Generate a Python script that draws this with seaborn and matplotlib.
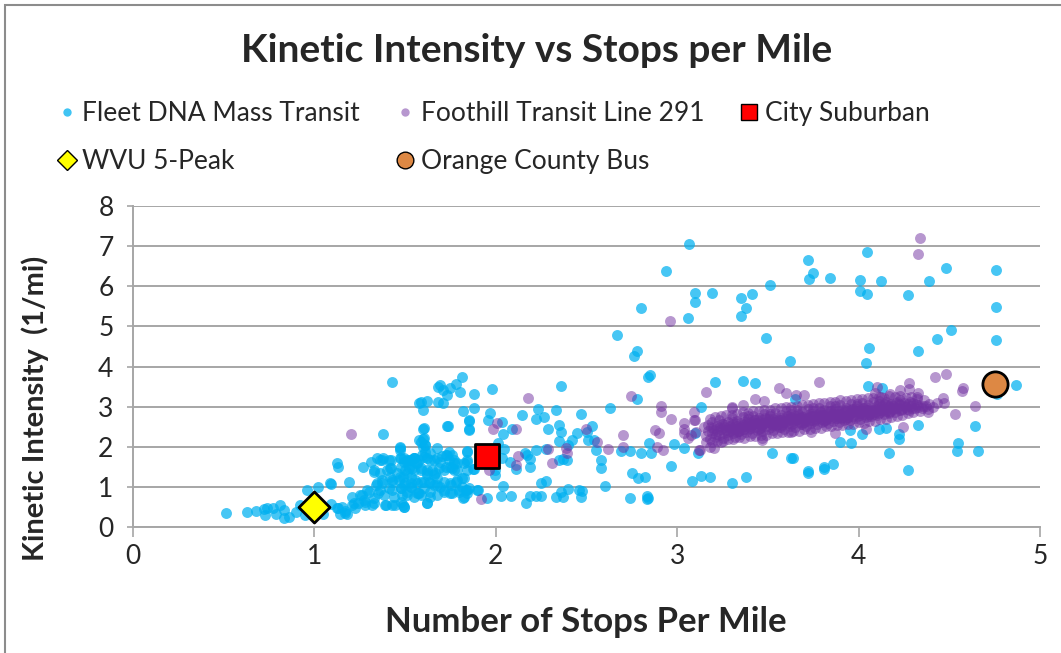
import pandas as pd
import seaborn as sns
import matplotlib.pyplot as plt
from matplotlib.lines import Line2D
from matplotlib.patches import Rectangle

# ---------------------------------------------------------------------------
# Data: (stops per mile, kinetic intensity 1/mi)
# ---------------------------------------------------------------------------
fleet_dna_low = [
    (0.51, 0.35), (0.63, 0.37), (0.68, 0.40), (0.72, 0.45), (0.73, 0.31), (0.74, 0.47),
    (0.77, 0.47), (0.79, 0.33), (0.81, 0.55), (0.83, 0.43), (0.83, 0.24), (0.86, 0.26),
    (0.90, 0.39), (0.92, 0.56), (0.95, 0.31), (0.96, 0.93), (1.02, 1.01), (1.05, 0.32),
    (1.09, 1.08), (1.09, 0.59), (1.125, 1.59), (1.13, 1.51), (1.13, 0.47), (1.14, 0.34),
    (1.18, 0.34), (1.19, 1.14), (1.17, 0.40), (1.088, 1.10), (1.125, 0.47), (1.152, 0.50),
    (1.17, 0.35), (1.21, 0.76), (1.21, 0.56), (1.24, 0.60), (1.217, 0.60), (1.226, 0.47),
]

fleet_dna_cluster = [
    (1.27, 1.51), (1.26, 0.80), (1.28, 0.64), (1.29, 0.93), (1.31, 1.63), (1.33, 1.43),
    (1.34, 1.05), (1.35, 0.85), (1.33, 0.60), (1.36, 1.68), (1.38, 1.72), (1.40, 1.43),
    (1.37, 1.10), (1.39, 0.56), (1.42, 1.68), (1.42, 1.47), (1.43, 1.18), (1.43, 0.93),
    (1.43, 0.56), (1.47, 1.97), (1.47, 1.72), (1.48, 1.51), (1.49, 1.26), (1.48, 0.97),
    (1.49, 0.56), (1.51, 1.68), (1.52, 1.47), (1.53, 1.10), (1.55, 1.72), (1.56, 1.59),
    (1.57, 0.85), (1.254, 0.81), (1.272, 0.68), (1.281, 0.56), (1.30, 0.89), (1.318, 0.56),
    (1.327, 0.72), (1.346, 1.10), (1.364, 0.93), (1.373, 1.18), (1.382, 0.81), (1.392, 0.56),
    (1.41, 0.97), (1.428, 1.14), (1.438, 0.76), (1.447, 0.56), (1.465, 1.18), (1.475, 0.97),
    (1.484, 0.81), (1.493, 0.51), (1.502, 1.10), (1.511, 0.89), (1.53, 1.01), (1.557, 1.18),
    (1.576, 0.85), (1.585, 1.14), (1.603, 0.97), (1.621, 0.60), (1.631, 1.14), (1.64, 0.89),
    (1.658, 1.05), (1.677, 1.22), (1.695, 1.01), (1.714, 0.93), (1.751, 1.05), (1.778, 1.14),
    (1.796, 0.93), (1.824, 0.76), (1.824, 1.22), (1.843, 0.93), (1.898, 0.93), (1.621, 1.30),
    (1.667, 1.34), (1.53, 1.26), (1.456, 1.34), (1.419, 1.26), (1.346, 1.72), (1.373, 1.68),
    (1.41, 1.68), (1.327, 1.38), (1.364, 1.34), (1.419, 1.47), (1.475, 1.72), (1.493, 1.63),
    (1.52, 1.68), (1.548, 1.72), (1.566, 1.59), (1.594, 1.80), (1.621, 1.72), (1.64, 1.68),
    (1.677, 1.97), (1.695, 1.63), (1.732, 1.80), (1.741, 1.68), (1.769, 1.59), (1.787, 1.59),
    (1.502, 1.43), (1.539, 1.47), (1.585, 1.43), (1.621, 1.34), (1.658, 1.30), (1.714, 1.43),
    (1.76, 1.47), (1.787, 1.43), (1.843, 1.88), (1.843, 1.68), (1.88, 1.45), (1.471, 2.01),
    (1.603, 2.22), (1.612, 2.05), (1.603, 2.48), (1.732, 2.51), (1.85, 2.65), (1.85, 2.43),
    (1.474, 1.93), (1.493, 1.72), (1.511, 1.63), (1.530, 1.68), (1.548, 1.72), (1.575, 1.68),
    (1.603, 1.76), (1.612, 1.88), (1.640, 1.84), (1.658, 1.68), (1.677, 1.72), (1.704, 1.77),
    (1.723, 1.80), (1.741, 1.88), (1.760, 1.80), (1.769, 1.68), (1.750, 1.51), (1.769, 1.43),
    (1.723, 1.51), (1.686, 1.47), (1.649, 1.43), (1.621, 1.43), (1.585, 1.47), (1.548, 1.43),
    (1.511, 1.35), (1.474, 1.26), (1.493, 1.05), (1.530, 1.01), (1.566, 1.10), (1.603, 1.14),
    (1.640, 1.10), (1.677, 1.05), (1.714, 1.14), (1.750, 1.10), (1.787, 1.18), (1.815, 1.01),
    (1.833, 0.93), (1.851, 0.97), (1.796, 0.89), (1.760, 0.85), (1.714, 0.89), (1.677, 0.81),
    (1.640, 0.76), (1.585, 0.81), (1.548, 0.76), (1.511, 0.81), (1.48, 0.64), (1.493, 0.51),
    (1.566, 0.85), (1.815, 1.22), (1.824, 1.59), (1.842, 1.43), (1.585, 2.13), (1.612, 2.05),
    (1.575, 3.09), (1.575, 2.17), (1.43, 3.63), (1.38, 2.32), (1.585, 3.11), (1.60, 2.92),
]

fleet_dna_mid = [
    (1.815, 3.73), (1.68, 3.50), (1.695, 3.54), (1.71, 3.42), (1.75, 3.46), (1.78, 3.57),
    (1.73, 3.29), (1.80, 3.38), (1.88, 3.32), (1.98, 3.44), (1.62, 3.15), (1.68, 3.13),
    (1.71, 3.09), (1.82, 2.90), (1.88, 2.98), (1.855, 2.67), (1.855, 2.44), (1.735, 2.52),
    (1.60, 2.46), (1.60, 2.19), (1.60, 2.01), (1.97, 2.84), (1.955, 2.67), (2.035, 2.63),
    (2.04, 2.32), (2.01, 2.09), (2.045, 1.95), (2.09, 2.46), (2.145, 2.80), (2.23, 2.94),
    (2.22, 2.69), (2.265, 2.75), (2.33, 2.92), (2.36, 3.53), (2.29, 2.44), (2.35, 2.55),
    (2.36, 2.38), (2.35, 2.16), (2.47, 2.82), (2.45, 2.36), (2.42, 2.17), (2.40, 2.05),
    (2.51, 2.17), (2.53, 2.52), (2.505, 2.38), (2.54, 2.17), (2.55, 1.92), (2.58, 1.68),
    (2.58, 1.48), (2.63, 2.98), (2.78, 3.19), (2.84, 3.75), (2.845, 2.11), (2.80, 1.86),
    (2.74, 1.91), (2.69, 1.91), (2.75, 1.36), (2.785, 1.22), (2.82, 1.25), (2.60, 1.03),
    (2.74, 0.72), (2.84, 0.72), (2.22, 1.92), (2.275, 1.94), (2.17, 1.80), (2.16, 1.84),
    (2.19, 1.69), (2.19, 1.49), (2.11, 1.44), (2.08, 1.63), (2.035, 1.72), (1.995, 1.30),
    (2.04, 1.03), (2.25, 1.10), (2.275, 1.16), (2.35, 1.68), (2.37, 1.69), (2.39, 1.68),
    (2.40, 0.95), (2.46, 0.93), (2.475, 0.91), (2.47, 0.76), (2.36, 0.87), (2.33, 0.76),
    (2.37, 0.76), (2.22, 0.78), (2.25, 0.78), (2.19, 0.78), (2.165, 0.61), (2.085, 0.78),
    (2.03, 0.78), (1.95, 0.72), (1.90, 0.93), (1.82, 0.72), (1.84, 0.85), (1.84, 1.63),
    (1.84, 1.90), (1.875, 1.46), (1.995, 1.43), (1.62, 0.60), (1.75, 0.85), (2.835, 0.70),
]

fleet_dna_high = [
    (3.066, 7.05), (2.94, 6.39), (2.80, 5.45), (2.67, 4.79), (2.78, 4.39), (2.76, 4.27),
    (2.85, 3.78), (3.10, 5.83), (3.10, 5.60), (3.06, 5.22), (3.19, 5.83), (3.35, 5.70),
    (3.38, 5.47), (3.35, 5.27), (3.41, 5.81), (3.51, 6.03), (3.49, 4.72), (3.62, 4.14),
    (3.72, 6.66), (3.75, 6.32), (3.725, 6.18), (3.84, 6.20), (4.045, 6.86), (4.005, 6.16),
    (4.005, 5.88), (4.045, 5.80), (4.125, 6.13), (4.275, 5.78), (4.39, 6.13), (4.48, 6.46),
    (4.76, 6.41), (4.76, 5.49), (4.76, 4.66), (4.51, 4.91), (4.43, 4.69), (4.33, 4.39),
    (4.06, 4.46), (4.04, 4.08), (4.87, 3.55), (3.21, 3.62), (3.36, 3.65), (3.43, 3.60),
    (4.05, 3.53), (4.13, 3.46), (4.765, 3.32),
]

fleet_dna_right = [
    (3.13, 2.99), (3.65, 3.19), (2.98, 2.07), (3.04, 1.98), (2.855, 1.84), (3.115, 1.84),
    (2.965, 1.53), (3.08, 1.16), (3.13, 1.28), (3.18, 1.26), (3.30, 1.10), (3.38, 1.26),
    (2.835, 0.78), (3.52, 1.86), (3.63, 1.73), (3.64, 1.73), (3.72, 1.40), (3.72, 1.34),
    (3.81, 1.51), (3.81, 1.44), (3.86, 1.58), (3.90, 2.13), (3.10, 2.34), (3.95, 2.42),
    (3.96, 2.11), (4.02, 2.32), (4.115, 2.44), (4.15, 2.47), (4.225, 2.32), (4.225, 2.19),
    (4.33, 2.55), (4.165, 1.84), (4.27, 1.43), (4.55, 2.11), (4.54, 1.91), (4.64, 2.52),
    (4.66, 1.91),
]

foothill_scattered = [
    (1.20, 2.32), (1.92, 0.70), (1.96, 1.43), (1.985, 2.44), (2.005, 2.59), (2.11, 2.44),
    (2.12, 1.78), (2.11, 1.55), (2.18, 3.21), (2.29, 1.95), (2.31, 1.61), (2.385, 1.97),
    (2.39, 1.86), (2.495, 2.44), (2.56, 2.13), (2.62, 1.96), (2.70, 2.30), (2.70, 1.99),
    (2.745, 3.27), (2.96, 5.14), (2.91, 3.02), (2.91, 2.88), (2.965, 2.69), (2.88, 2.42),
    (2.90, 2.34), (2.89, 2.01), (2.92, 1.92), (3.04, 2.59), (3.035, 2.34), (3.06, 2.22),
    (3.075, 2.30), (3.09, 2.88), (3.10, 2.67), (3.105, 2.38), (3.125, 1.92), (3.15, 2.50),
    (3.16, 3.38), (3.16, 2.13), (3.18, 2.01), (3.205, 1.97), (3.24, 2.13), (3.30, 3.00),
    (3.36, 3.05), (3.47, 2.22), (3.48, 3.15), (3.43, 3.19), (3.56, 3.46), (3.60, 3.35),
    (3.655, 3.29), (3.70, 3.29), (3.78, 3.63), (3.87, 2.34), (3.74, 2.38), (3.63, 2.38),
    (4.34, 7.20), (4.33, 6.81), (4.42, 3.74), (4.48, 3.81), (4.28, 3.59), (4.28, 3.44),
    (4.23, 3.42), (4.33, 3.34), (4.32, 3.25), (4.10, 3.49), (4.09, 3.34), (4.125, 3.25),
    (4.175, 3.32), (4.575, 3.46), (4.57, 3.39), (4.465, 3.21), (4.47, 3.09), (4.43, 3.09),
    (4.64, 3.02), (4.53, 2.82), (4.38, 2.94), (4.245, 2.49), (4.04, 2.44), (3.04, 2.46),
    (3.09, 2.67), (3.30, 2.96), (3.47, 2.17), (3.12, 1.92),
]

foothill_core = [
    (3.16, 2.28), (3.17, 2.41), (3.17, 2.55), (3.18, 2.19), (3.19, 2.34), (3.19, 2.63),
    (3.20, 2.47), (3.21, 2.26), (3.22, 2.39), (3.22, 2.52), (3.23, 2.31), (3.23, 2.68),
    (3.24, 2.45), (3.25, 2.22), (3.25, 2.57), (3.26, 2.36), (3.26, 2.49), (3.27, 2.43),
    (3.28, 2.61), (3.28, 2.30), (3.29, 2.52), (3.29, 2.40), (3.30, 2.71), (3.30, 2.47),
    (3.31, 2.35), (3.31, 2.58), (3.32, 2.44), (3.32, 2.26), (3.33, 2.53), (3.33, 2.65),
    (3.34, 2.41), (3.34, 2.48), (3.35, 2.60), (3.35, 2.33), (3.36, 2.55), (3.36, 2.74),
    (3.37, 2.45), (3.37, 2.62), (3.38, 2.38), (3.38, 2.51), (3.39, 2.58), (3.39, 2.69),
    (3.40, 2.47), (3.40, 2.52), (3.41, 2.63), (3.41, 2.36), (3.42, 2.56), (3.42, 2.78),
    (3.43, 2.49), (3.43, 2.66), (3.44, 2.42), (3.44, 2.59), (3.45, 2.61), (3.45, 2.72),
    (3.46, 2.50), (3.46, 2.55), (3.47, 2.67), (3.47, 2.40), (3.48, 2.59), (3.48, 2.82),
    (3.49, 2.53), (3.49, 2.70), (3.50, 2.46), (3.50, 2.63), (3.51, 2.65), (3.51, 2.76),
    (3.52, 2.54), (3.52, 2.58), (3.53, 2.70), (3.53, 2.43), (3.54, 2.62), (3.54, 2.85),
    (3.55, 2.57), (3.55, 2.73), (3.56, 2.49), (3.56, 2.66), (3.57, 2.68), (3.57, 2.79),
    (3.58, 2.57), (3.58, 2.61), (3.59, 2.73), (3.59, 2.46), (3.60, 2.65), (3.60, 2.89),
    (3.61, 2.60), (3.61, 2.76), (3.62, 2.52), (3.62, 2.70), (3.63, 2.71), (3.63, 2.83),
    (3.64, 2.60), (3.64, 2.64), (3.65, 2.77), (3.65, 2.50), (3.66, 2.69), (3.66, 2.92),
    (3.67, 2.63), (3.67, 2.80), (3.68, 2.56), (3.68, 2.73), (3.69, 2.74), (3.69, 2.86),
    (3.70, 2.63), (3.70, 2.67), (3.71, 2.80), (3.71, 2.53), (3.72, 2.72), (3.72, 2.95),
    (3.73, 2.66), (3.73, 2.83), (3.74, 2.59), (3.74, 2.76), (3.75, 2.77), (3.75, 2.89),
    (3.76, 2.66), (3.76, 2.70), (3.77, 2.83), (3.77, 2.56), (3.78, 2.75), (3.78, 2.98),
    (3.79, 2.69), (3.79, 2.86), (3.80, 2.62), (3.80, 2.79), (3.81, 2.80), (3.81, 2.92),
    (3.82, 2.69), (3.82, 2.74), (3.83, 2.86), (3.83, 2.60), (3.84, 2.78), (3.84, 3.01),
    (3.85, 2.72), (3.85, 2.89), (3.86, 2.65), (3.86, 2.83), (3.87, 2.83), (3.87, 2.95),
    (3.88, 2.72), (3.88, 2.77), (3.89, 2.89), (3.89, 2.63), (3.90, 2.81), (3.90, 3.04),
    (3.91, 2.75), (3.91, 2.92), (3.92, 2.68), (3.92, 2.86), (3.93, 2.86), (3.93, 2.98),
    (3.94, 2.75), (3.94, 2.80), (3.95, 2.92), (3.95, 2.67), (3.96, 2.84), (3.96, 3.06),
    (3.97, 2.78), (3.97, 2.95), (3.98, 2.72), (3.98, 2.89), (3.99, 2.90), (3.99, 3.01),
    (4.00, 2.79), (4.00, 2.84), (4.01, 2.95), (4.01, 2.70), (4.02, 2.87), (4.02, 3.09),
    (4.03, 2.82), (4.03, 2.98), (4.04, 2.75), (4.04, 2.92), (4.05, 2.93), (4.05, 3.04),
    (4.06, 2.83), (4.06, 2.88), (4.07, 2.98), (4.07, 2.76), (4.08, 2.91), (4.08, 3.11),
    (4.09, 2.86), (4.10, 3.01), (4.10, 2.80), (4.11, 2.96), (4.11, 3.07), (4.12, 2.87),
    (4.12, 2.92), (4.13, 3.02), (4.14, 2.82), (4.14, 2.95), (4.15, 3.12), (4.15, 2.90),
    (4.16, 3.04), (4.17, 2.99), (4.17, 2.88), (4.18, 3.08), (4.19, 2.94), (4.19, 3.03),
    (4.20, 2.86), (4.21, 2.98), (4.21, 3.13), (4.22, 2.93), (4.23, 3.04), (4.24, 2.95),
    (4.25, 3.09), (4.26, 2.99), (4.27, 3.06), (4.28, 2.92), (4.29, 3.02), (4.30, 3.10),
    (4.31, 2.98), (4.33, 3.05), (4.35, 2.96), (4.37, 3.02), (4.39, 3.08), (4.41, 2.99),
]

foothill_edges = [
    (3.18, 2.70), (3.19, 2.12), (3.21, 2.74), (3.22, 2.16), (3.24, 2.77), (3.25, 2.15),
    (3.27, 2.79), (3.28, 2.20), (3.30, 2.80), (3.31, 2.19), (3.33, 2.83), (3.34, 2.24),
    (3.36, 2.86), (3.37, 2.22), (3.39, 2.85), (3.40, 2.28), (3.42, 2.89), (3.43, 2.27),
    (3.45, 2.90), (3.46, 2.31), (3.48, 2.93), (3.49, 2.30), (3.51, 2.92), (3.52, 2.35),
    (3.54, 2.96), (3.55, 2.34), (3.57, 2.98), (3.58, 2.38), (3.60, 3.00), (3.61, 2.37),
    (3.63, 2.99), (3.64, 2.41), (3.66, 3.03), (3.67, 2.40), (3.69, 3.05), (3.70, 2.45),
    (3.72, 3.04), (3.73, 2.44), (3.75, 3.08), (3.76, 2.48), (3.78, 3.09), (3.79, 2.47),
    (3.81, 3.10), (3.82, 2.52), (3.84, 3.13), (3.85, 2.51), (3.87, 3.12), (3.88, 2.55),
    (3.90, 3.16), (3.91, 2.54), (3.93, 3.15), (3.94, 2.58), (3.96, 3.18), (3.97, 2.57),
    (3.99, 3.19), (4.00, 2.61), (4.02, 3.20), (4.03, 2.60), (4.05, 3.22), (4.06, 2.65),
    (4.08, 3.21), (4.09, 2.64), (4.11, 3.24), (4.12, 2.69), (4.14, 3.23), (4.15, 2.70),
    (4.17, 3.26), (4.18, 2.74), (4.20, 3.25), (4.21, 2.76), (4.23, 3.28), (4.24, 2.80),
    (4.26, 3.22), (4.27, 2.84), (4.29, 3.25), (4.30, 2.86), (4.32, 3.20), (4.34, 2.90),
    (4.36, 3.16), (4.38, 2.88),
    (3.185, 2.50), (3.215, 2.33), (3.245, 2.58), (3.275, 2.37), (3.305, 2.62), (3.335, 2.40),
    (3.365, 2.46), (3.395, 2.44), (3.425, 2.68), (3.455, 2.47), (3.485, 2.71), (3.515, 2.50),
    (3.545, 2.55), (3.575, 2.54), (3.605, 2.78), (3.635, 2.58), (3.665, 2.81), (3.695, 2.61),
    (3.725, 2.64), (3.755, 2.64), (3.785, 2.86), (3.815, 2.68), (3.845, 2.90), (3.875, 2.71),
    (3.905, 2.73), (3.935, 2.74), (3.965, 2.95), (3.995, 2.78), (4.025, 2.98), (4.055, 2.81),
    (4.085, 2.83), (4.115, 2.85), (4.145, 3.06), (4.175, 2.89), (4.205, 3.09), (4.235, 2.92),
    (4.265, 2.94), (4.295, 2.96), (4.325, 3.00), (4.355, 3.03),
]

foothill_dense = [
    (3.205, 2.42), (3.235, 2.50), (3.265, 2.55), (3.295, 2.45), (3.325, 2.56), (3.355, 2.50),
    (3.385, 2.62), (3.415, 2.54), (3.445, 2.66), (3.475, 2.56), (3.505, 2.69), (3.535, 2.60),
    (3.565, 2.72), (3.595, 2.62), (3.625, 2.75), (3.655, 2.66), (3.685, 2.78), (3.715, 2.69),
    (3.745, 2.82), (3.775, 2.72), (3.805, 2.85), (3.835, 2.75), (3.865, 2.88), (3.895, 2.79),
    (3.925, 2.91), (3.955, 2.82), (3.985, 2.94), (4.015, 2.85), (4.045, 2.97), (4.075, 2.88),
    (4.105, 3.00), (4.135, 2.91), (4.165, 3.02), (4.195, 2.96), (4.225, 3.07), (4.255, 3.01),
    (4.285, 3.12), (4.315, 3.06), (3.33, 2.37), (3.45, 2.44), (3.57, 2.50), (3.69, 2.58),
    (3.81, 2.64), (3.93, 2.70), (4.05, 2.78), (4.17, 2.84), (3.39, 2.77), (3.51, 2.83),
    (3.63, 2.91), (3.75, 2.96), (3.87, 3.02), (3.99, 3.08), (4.11, 3.15), (4.23, 3.18),
]

city_suburban = (1.95, 1.77)
wvu_5_peak = (1.00, 0.50)
orange_county_bus = (4.75, 3.58)

x_ticks = [0, 1, 2, 3, 4, 5]
y_ticks = [0, 1, 2, 3, 4, 5, 6, 7, 8]

FLEET_COLOR = "#00B0F0"
FOOTHILL_COLOR = "#7030A0"
GRID_COLOR = "#A6A6A6"

fleet = pd.DataFrame(fleet_dna_low + fleet_dna_cluster + fleet_dna_mid
                     + fleet_dna_high + fleet_dna_right, columns=["spm", "ki"])
foothill = pd.DataFrame(foothill_scattered + foothill_core + foothill_edges + foothill_dense,
                        columns=["spm", "ki"])
refs = pd.DataFrame([city_suburban, wvu_5_peak, orange_county_bus],
                    columns=["spm", "ki"])
refs["cycle"] = ["City Suburban", "WVU 5-Peak", "Orange County Bus"]

# ---------------------------------------------------------------------------
# Figure
# ---------------------------------------------------------------------------
sns.set_theme(style="white")
plt.rcParams["font.family"] = ["Lato", "DejaVu Sans"]

W, H = 1061, 653
fig = plt.figure(figsize=(W / 100, H / 100), dpi=100)
fig.patch.set_facecolor("white")
ax = fig.add_axes([133 / W, 1 - 527.3 / H, (1040 - 133) / W, (527.3 - 206) / H])

sns.scatterplot(data=fleet, x="spm", y="ki", ax=ax, color=FLEET_COLOR, alpha=0.72,
                s=62, linewidth=0, legend=False, zorder=3)
sns.scatterplot(data=foothill, x="spm", y="ki", ax=ax, color=FOOTHILL_COLOR, alpha=0.5,
                s=62, linewidth=0, legend=False, zorder=4)

ref_style = {
    "City Suburban": dict(marker="s", color="#FF0000", s=300),
    "WVU 5-Peak": dict(marker="D", color="#FFFF00", s=250),
    "Orange County Bus": dict(marker="o", color="#DD8844", s=330),
}
for name, st in ref_style.items():
    sub = refs[refs["cycle"] == name]
    sns.scatterplot(data=sub, x="spm", y="ki", ax=ax, marker=st["marker"],
                    color=st["color"], s=st["s"], edgecolor="black", linewidth=2,
                    legend=False, zorder=6)

ax.set_xlim(0, 5)
ax.set_ylim(0, 8)
ax.set_xticks(x_ticks)
ax.set_yticks(y_ticks)
ax.set_xticklabels([str(v) for v in x_ticks])
ax.set_yticklabels([str(v) for v in y_ticks])
ax.yaxis.grid(True, color=GRID_COLOR, linewidth=1.4)
ax.xaxis.grid(False)
ax.set_axisbelow(True)
for side in ("top", "right"):
    ax.spines[side].set_visible(False)
for side in ("left", "bottom"):
    ax.spines[side].set_color(GRID_COLOR)
    ax.spines[side].set_linewidth(1.4)
ax.tick_params(axis="x", direction="out", length=7, width=1.2, color=GRID_COLOR,
               labelsize=19, pad=5, bottom=True)
ax.tick_params(axis="y", direction="out", length=4, width=1.2, color=GRID_COLOR,
               labelsize=19, pad=10, left=True)

ax.set_xlabel("Number of Stops Per Mile", fontsize=25, fontweight="bold")
ax.set_ylabel("Kinetic Intensity  (1/mi)", fontsize=21, fontweight="bold")
ax.xaxis.set_label_coords(0.4995, -0.295)
ax.xaxis.label.set_va("center")
ax.yaxis.set_label_coords(-0.108, 0.37)
ax.yaxis.label.set_va("center")

fig.text(537 / W, 1 - 50 / H, "Kinetic Intensity vs Stops per Mile", ha="center",
         va="center", fontsize=28, fontweight="bold")

handles = [
    Line2D([], [], linestyle="none", marker="o", markersize=6, markerfacecolor=FLEET_COLOR,
           markeredgewidth=0, alpha=0.75, label="Fleet DNA Mass Transit"),
    Line2D([], [], linestyle="none", marker="D", markersize=10, markerfacecolor="#FFFF00",
           markeredgecolor="black", markeredgewidth=1, label="WVU 5-Peak"),
    Line2D([], [], linestyle="none", marker="o", markersize=6,
           markerfacecolor=FOOTHILL_COLOR, markeredgewidth=0, alpha=0.5,
           label="Foothill Transit Line 291"),
    Line2D([], [], linestyle="none", marker="o", markersize=12, markerfacecolor="#DD8844",
           markeredgecolor="black", markeredgewidth=1, label="Orange County Bus"),
    Line2D([], [], linestyle="none", marker="s", markersize=12, markerfacecolor="#FF0000",
           markeredgecolor="black", markeredgewidth=1, label="City Suburban"),
]
fig.legend(handles=handles, ncol=3, loc="upper left",
           bbox_to_anchor=(56 / W, 1 - 101 / H), frameon=False, fontsize=19,
           handlelength=0.8, handletextpad=0.2, columnspacing=1.3, labelspacing=0.88,
           borderaxespad=0, borderpad=0)

fig.patches.append(Rectangle((5 / W, -0.1), 1.2, 1 - 5 / H + 0.1, transform=fig.transFigure,
                             fill=False, edgecolor="#8C8C8C", linewidth=1.5))

fig.savefig("out.png", dpi=100)
